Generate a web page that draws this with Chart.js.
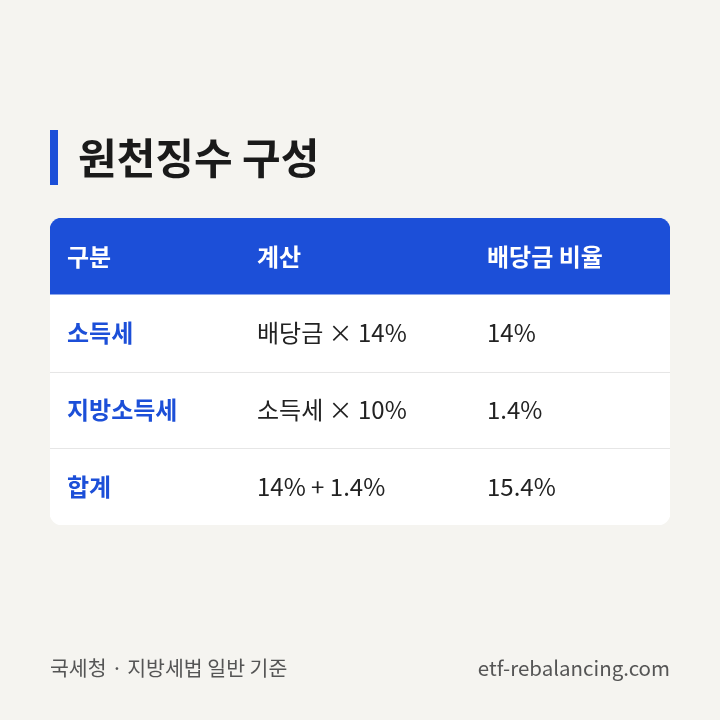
<!DOCTYPE html>
<html>
<head>
<meta charset="utf-8">
<script src="https://cdn.jsdelivr.net/npm/chart.js@4"></script>
<style>
  html, body { margin: 0; padding: 0; background: #f5f4f0; }
  #wrap { width: 720px; height: 720px; }
</style>
</head>
<body>
<div id="wrap"><canvas id="myChart" width="720" height="720"></canvas></div>
<script>
// table contents
var rows = ['header', 'r1', 'r2', 'r3']
var headers = ['구분', '계산', '배당금 비율']
var col1 = ['소득세', '지방소득세', '합계']
var col2 = ['배당금 × 14%', '소득세 × 10%', '14% + 1.4%']
var col3 = ['14%', '1.4%', '15.4%']
var colPos = [17, 207, 437]   // x-scale values for text columns

var title = '원천징수 구성'
var source = '국세청 · 지방세법 일반 기준'
var site = 'etf-rebalancing.com'

var BLUE = '#1c4fd8'
var FONT = '"Noto Sans CJK KR", "Noto Sans", sans-serif'

var tablePlugin = {
  id: 'tablePlugin',
  beforeDraw: function(chart) {
    var c = chart.ctx
    c.save()
    c.fillStyle = '#f5f4f0'
    c.fillRect(0, 0, chart.width, chart.height)
    c.restore()
  },
  afterDraw: function(chart) {
    var c = chart.ctx
    var xs = chart.scales.x
    var ys = chart.scales.y
    var area = chart.chartArea
    c.save()
    // row separators
    c.strokeStyle = '#e6e6e6'
    c.lineWidth = 1
    for (var i = 2; i < rows.length; i++) {
      var yb = (ys.getPixelForValue(i - 1) + ys.getPixelForValue(i)) / 2
      c.beginPath()
      c.moveTo(area.left, Math.round(yb) + 0.5)
      c.lineTo(area.right, Math.round(yb) + 0.5)
      c.stroke()
    }
    c.textBaseline = 'middle'
    c.textAlign = 'left'
    // header
    c.fillStyle = '#ffffff'
    c.font = 'bold 24px ' + FONT
    for (var j = 0; j < headers.length; j++) {
      c.fillText(headers[j], xs.getPixelForValue(colPos[j]), ys.getPixelForValue(0))
    }
    // body
    for (var r = 0; r < col1.length; r++) {
      var y = ys.getPixelForValue(r + 1)
      c.fillStyle = BLUE
      c.font = 'bold 24px ' + FONT
      c.fillText(col1[r], xs.getPixelForValue(colPos[0]), y)
      c.fillStyle = '#222222'
      c.font = '24px ' + FONT
      c.fillText(col2[r], xs.getPixelForValue(colPos[1]), y)
      c.fillText(col3[r], xs.getPixelForValue(colPos[2]), y)
    }
    // title
    c.fillStyle = BLUE
    c.fillRect(50, 130, 8, 55)
    c.fillStyle = '#1a1a1a'
    c.font = 'bold 42px ' + FONT
    c.fillText(title, 78, 158)
    // footer
    c.fillStyle = '#555555'
    c.font = '20.5px ' + FONT
    c.fillText(source, 50, 668)
    c.textAlign = 'right'
    c.fillText(site, 670, 668)
    c.restore()
  }
}

var ctx = document.getElementById('myChart').getContext('2d')
new Chart(ctx, {
  type: 'bar',
  data: {
    labels: rows,
    datasets: [{
      data: rows.map(function() { return [0, 620] }),
      backgroundColor: rows.map(function(r, i) { return i === 0 ? BLUE : '#ffffff' }),
      borderRadius: function(context) {
        var i = context.dataIndex
        if (i === 0) return { topLeft: 12, topRight: 12, bottomLeft: 0, bottomRight: 0 }
        if (i === rows.length - 1) return { topLeft: 0, topRight: 0, bottomLeft: 12, bottomRight: 12 }
        return 0
      },
      borderSkipped: false,
      barPercentage: 1,
      categoryPercentage: 1
    }]
  },
  options: {
    indexAxis: 'y',
    responsive: false,
    animation: false,
    layout: { padding: { left: 50, right: 50, top: 218, bottom: 195 } },
    scales: {
      x: { display: false, min: 0, max: 620 },
      y: { display: false }
    },
    plugins: { legend: { display: false }, tooltip: { enabled: false } }
  },
  plugins: [tablePlugin]
})
</script>
</body>
</html>
